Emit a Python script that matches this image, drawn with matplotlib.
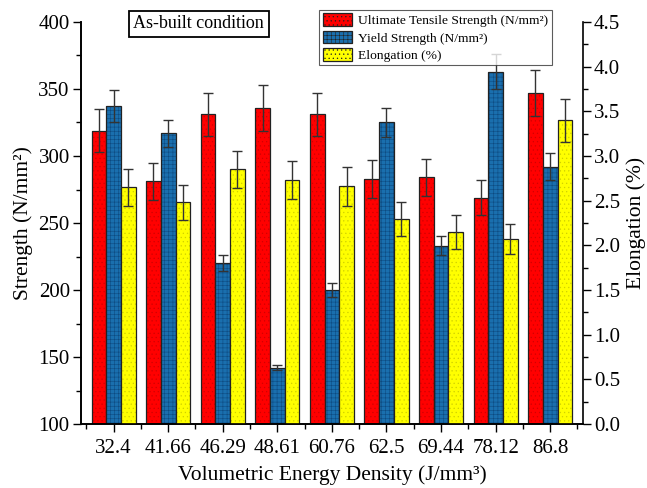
import numpy as np
import matplotlib.pyplot as plt
from matplotlib.patches import Patch
from matplotlib.ticker import MultipleLocator, FormatStrFormatter

plt.rcParams["font.family"] = ["Liberation Serif", "DejaVu Serif"]
plt.rcParams["hatch.linewidth"] = 0.4

energy = ["32.4", "41.66", "46.29", "48.61", "60.76", "62.5", "69.44", "78.12", "86.8"]

uts = [319, 281, 331, 336, 331, 283, 284, 269, 347]
uts_err = [16, 14, 16, 17, 16, 14, 14, 13, 17]
ys = [337, 317, 220, 142, 200, 325, 233, 363, 292]
ys_err = [12, 10, 6, 2, 5, 11, 7, 13, 10]
elong = [2.65, 2.48, 2.85, 2.73, 2.66, 2.29, 2.15, 2.07, 3.40]
elong_err = [0.21, 0.20, 0.21, 0.21, 0.22, 0.19, 0.19, 0.17, 0.24]

labels = ["Ultimate Tensile Strength (N/mm²)", "Yield Strength (N/mm²)", "Elongation (%)"]
styles = [("#ff0000", "....", "#d00000"),
          ("#1a6fae", "++++", "#0d4a80"),
          ("#ffff00", "....", "#d0d000")]

x = np.arange(1, len(energy) + 1)
w = 0.27

fig = plt.figure(figsize=(6.47, 4.88), dpi=100)
ax = fig.add_axes([0.125, 0.131, 0.776, 0.824])
ax2 = ax.twinx()

err_kw = dict(ecolor="#333333", elinewidth=1.0, capsize=3.5, capthick=1.0)


def textured_bars(axis, xs, vals, errs, style):
    color, hatch, hcolor = style
    # base fill with a fine texture, then a plain outline on top
    axis.bar(xs, vals, w, color=color, edgecolor=hcolor, hatch=hatch, linewidth=0)
    axis.bar(xs, vals, w, yerr=errs, color="none", edgecolor="#222222",
             linewidth=0.9, error_kw=err_kw)


textured_bars(ax, x - w, uts, uts_err, styles[0])
textured_bars(ax, x, ys, ys_err, styles[1])
textured_bars(ax2, x + w, elong, elong_err, styles[2])

ax.set_xlim(0.4, 9.6)
ax.set_ylim(100, 400)
ax2.set_ylim(0, 4.5)

ax.set_xticks(x)
ax.set_xticklabels(energy)
ax.xaxis.set_minor_locator(MultipleLocator(0.5))
ax.yaxis.set_major_locator(MultipleLocator(50))
ax.yaxis.set_minor_locator(MultipleLocator(25))
ax2.yaxis.set_major_locator(MultipleLocator(0.5))
ax2.yaxis.set_minor_locator(MultipleLocator(0.25))
ax2.yaxis.set_major_formatter(FormatStrFormatter("%.1f"))

for a in (ax, ax2):
    a.tick_params(which="major", direction="out", length=6, width=1, labelsize=15, pad=2)
    a.tick_params(which="minor", direction="out", length=3.5, width=1)
    a.spines["top"].set_visible(False)
    for s in a.spines.values():
        s.set_linewidth(1.2)
ax.spines["right"].set_visible(False)
ax.tick_params(axis="x", which="major", pad=5)

ax.set_xlabel("Volumetric Energy Density (J/mm³)", fontsize=15.5, labelpad=5)
ax.set_ylabel("Strength (N/mm²)", fontsize=15.5, labelpad=4)
ax2.set_ylabel("Elongation (%)", fontsize=15.5, labelpad=4)

ax.text(0.235, 0.996, "As-built condition", transform=ax.transAxes, fontsize=13,
        ha="center", va="center",
        bbox=dict(boxstyle="square,pad=0.25", fc="white", ec="black", lw=1.3))

handles = [Patch(facecolor=c, edgecolor="#222222", hatch=h, linewidth=0.9)
           for c, h, _ in styles]
leg = ax2.legend(handles, labels, loc="upper right", bbox_to_anchor=(0.938, 1.03),
                 fontsize=9.7, frameon=True, fancybox=False, edgecolor="#333333",
                 handlelength=2.15, handleheight=1.05, labelspacing=0.27,
                 borderpad=0.25, handletextpad=0.5, borderaxespad=0)
leg.get_frame().set_linewidth(0.8)

fig.savefig("out.png", dpi=100)
